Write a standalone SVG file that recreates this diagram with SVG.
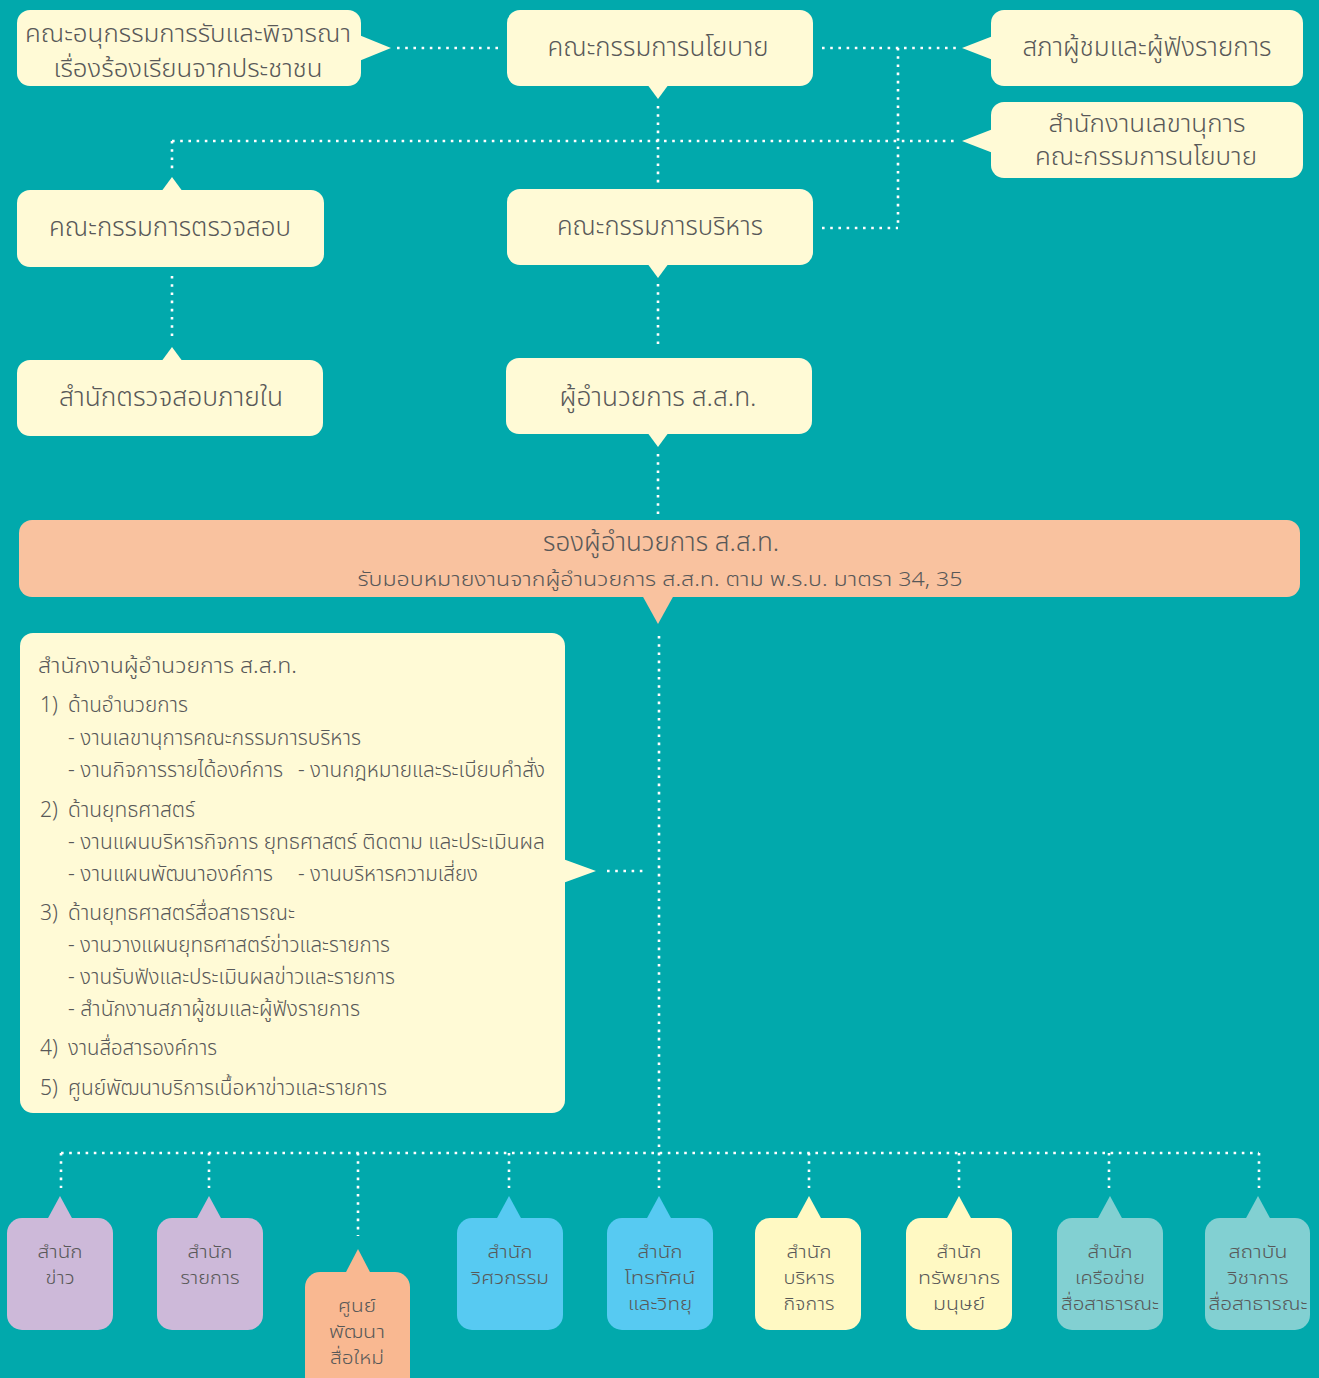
<svg xmlns="http://www.w3.org/2000/svg" width="1319" height="1378" viewBox="0 0 1319 1378">
<style>
.bg{fill:#01A9AC}
.cream{fill:#FFFAD6}
.cream2{fill:#FFF9C3}
.peach{fill:#F9C29F}
.peach2{fill:#F9B891}
.lav{fill:#CDB9D9}
.blue{fill:#57CAF2}
.aqua{fill:#82D0D2}
text{font-family:"Noto Sans Thai","Noto Sans Thai UI","Noto Sans","DejaVu Sans",sans-serif;fill:#585858;font-weight:300}
.t24{font-size:26px}
.t23{font-size:24px}
.t20{font-size:21px}
.t19{font-size:20px}
.t18{font-size:18.5px}
.c{text-anchor:middle}
.dot{fill:none;stroke:#FFFFFF;stroke-width:2.6;stroke-dasharray:2.6 5.6}
</style>
<rect class="bg" x="0" y="0" width="1319" height="1378"/>

<g id="connectors">
<path class="dot" d="M397 48 H500"/>
<path class="dot" d="M658 106 V183"/>
<path class="dot" d="M822 48 H958"/>
<path class="dot" d="M898 48 V228"/>
<path class="dot" d="M822 228 H898"/>
<path class="dot" d="M172 141 H958"/>
<path class="dot" d="M172 141 V172"/>
<path class="dot" d="M658 284 V348"/>
<path class="dot" d="M172 276 V340"/>
<path class="dot" d="M658 454 V514"/>
<path class="dot" d="M659 636 V1153"/>
<path class="dot" d="M607 871 H648"/>
<path class="dot" d="M61 1153 H1259"/>
<path class="dot" d="M61 1153 V1188"/>
<path class="dot" d="M209 1153 V1188"/>
<path class="dot" d="M358 1153 V1236"/>
<path class="dot" d="M509 1153 V1188"/>
<path class="dot" d="M659 1153 V1188"/>
<path class="dot" d="M809 1153 V1188"/>
<path class="dot" d="M959 1153 V1188"/>
<path class="dot" d="M1109 1153 V1188"/>
<path class="dot" d="M1259 1153 V1188"/>
</g>

<g id="n-subcommittee">
<rect class="cream" x="17" y="10" width="344" height="76" rx="13"/>
<polygon class="cream" points="359,35 391,48 359,61"/>
<text class="t23 c" x="188" y="42" textLength="326" lengthAdjust="spacingAndGlyphs">คณะอนุกรรมการรับและพิจารณา</text>
<text class="t23 c" x="188" y="77" textLength="269" lengthAdjust="spacingAndGlyphs">เรื่องร้องเรียนจากประชาชน</text>
</g>

<g id="n-policy">
<rect class="cream" x="507" y="10" width="306" height="76" rx="13"/>
<polygon class="cream" points="647,84 658,99 669,84"/>
<text class="t24 c" x="658" y="56" textLength="221" lengthAdjust="spacingAndGlyphs">คณะกรรมการนโยบาย</text>
</g>

<g id="n-council">
<rect class="cream" x="991" y="10" width="312" height="76" rx="13"/>
<polygon class="cream" points="993,36 962,48 993,60"/>
<text class="t24 c" x="1147" y="56" textLength="249" lengthAdjust="spacingAndGlyphs">สภาผู้ชมและผู้ฟังรายการ</text>
</g>

<g id="n-secretariat">
<rect class="cream" x="991" y="102" width="312" height="76" rx="13"/>
<polygon class="cream" points="993,129 962,141 993,153"/>
<text class="t23 c" x="1147" y="132" textLength="197" lengthAdjust="spacingAndGlyphs">สำนักงานเลขานุการ</text>
<text class="t23 c" x="1146" y="165" textLength="222" lengthAdjust="spacingAndGlyphs">คณะกรรมการนโยบาย</text>
</g>

<g id="n-audit">
<rect class="cream" x="17" y="190" width="307" height="77" rx="13"/>
<polygon class="cream" points="161,192 172,177 183,192"/>
<text class="t24 c" x="170" y="236" textLength="242" lengthAdjust="spacingAndGlyphs">คณะกรรมการตรวจสอบ</text>
</g>

<g id="n-executive">
<rect class="cream" x="507" y="189" width="306" height="76" rx="13"/>
<polygon class="cream" points="647,263 658,278 669,263"/>
<text class="t24 c" x="660" y="235" textLength="206" lengthAdjust="spacingAndGlyphs">คณะกรรมการบริหาร</text>
</g>

<g id="n-internal-audit">
<rect class="cream" x="17" y="360" width="306" height="76" rx="13"/>
<polygon class="cream" points="161,362 172,347 183,362"/>
<text class="t24 c" x="171" y="406" textLength="224" lengthAdjust="spacingAndGlyphs">สำนักตรวจสอบภายใน</text>
</g>

<g id="n-director">
<rect class="cream" x="506" y="358" width="306" height="76" rx="13"/>
<polygon class="cream" points="647,432 658,447 669,432"/>
<text class="t24 c" x="658" y="406" textLength="197" lengthAdjust="spacingAndGlyphs">ผู้อำนวยการ ส.ส.ท.</text>
</g>

<g id="n-deputy">
<rect class="peach" x="19" y="520" width="1281" height="77" rx="13"/>
<polygon class="peach" points="642,595 658,624 674,595"/>
<text class="t24 c" x="661" y="551" textLength="236" lengthAdjust="spacingAndGlyphs">รองผู้อำนวยการ ส.ส.ท.</text>
<text class="t19 c" x="660" y="586" textLength="605" lengthAdjust="spacingAndGlyphs">รับมอบหมายงานจากผู้อำนวยการ ส.ส.ท. ตาม พ.ร.บ. มาตรา 34, 35</text>
</g>

<g id="n-office">
<rect class="cream" x="20" y="633" width="545" height="480" rx="13"/>
<polygon class="cream" points="563,859 596,871 563,883"/>
<text class="t20" x="38" y="673" textLength="259" lengthAdjust="spacingAndGlyphs">สำนักงานผู้อำนวยการ ส.ส.ท.</text>
<text class="t20" x="40" y="712">1)</text>
<text class="t20" x="68" y="712" textLength="120" lengthAdjust="spacingAndGlyphs">ด้านอำนวยการ</text>
<text class="t20" x="68" y="745" textLength="293" lengthAdjust="spacingAndGlyphs">- งานเลขานุการคณะกรรมการบริหาร</text>
<text class="t20" x="68" y="777" textLength="215" lengthAdjust="spacingAndGlyphs">- งานกิจการรายได้องค์การ</text>
<text class="t20" x="298" y="777" textLength="247" lengthAdjust="spacingAndGlyphs">- งานกฎหมายและระเบียบคำสั่ง</text>
<text class="t20" x="40" y="817">2)</text>
<text class="t20" x="68" y="817" textLength="127" lengthAdjust="spacingAndGlyphs">ด้านยุทธศาสตร์</text>
<text class="t20" x="68" y="849" textLength="477" lengthAdjust="spacingAndGlyphs">- งานแผนบริหารกิจการ ยุทธศาสตร์ ติดตาม และประเมินผล</text>
<text class="t20" x="68" y="881" textLength="205" lengthAdjust="spacingAndGlyphs">- งานแผนพัฒนาองค์การ</text>
<text class="t20" x="298" y="881" textLength="180" lengthAdjust="spacingAndGlyphs">- งานบริหารความเสี่ยง</text>
<text class="t20" x="40" y="920">3)</text>
<text class="t20" x="68" y="920" textLength="227" lengthAdjust="spacingAndGlyphs">ด้านยุทธศาสตร์สื่อสาธารณะ</text>
<text class="t20" x="68" y="952" textLength="322" lengthAdjust="spacingAndGlyphs">- งานวางแผนยุทธศาสตร์ข่าวและรายการ</text>
<text class="t20" x="68" y="984" textLength="327" lengthAdjust="spacingAndGlyphs">- งานรับฟังและประเมินผลข่าวและรายการ</text>
<text class="t20" x="68" y="1016" textLength="292" lengthAdjust="spacingAndGlyphs">- สำนักงานสภาผู้ชมและผู้ฟังรายการ</text>
<text class="t20" x="40" y="1055">4)</text>
<text class="t20" x="68" y="1055" textLength="149" lengthAdjust="spacingAndGlyphs">งานสื่อสารองค์การ</text>
<text class="t20" x="40" y="1095">5)</text>
<text class="t20" x="68" y="1095" textLength="319" lengthAdjust="spacingAndGlyphs">ศูนย์พัฒนาบริการเนื้อหาข่าวและรายการ</text>
</g>

<g id="n-news">
<rect class="lav" x="7" y="1218" width="106" height="112" rx="15"/>
<polygon class="lav" points="47,1220 60,1196 73,1220"/>
<text class="t18 c" x="60" y="1258" textLength="45" lengthAdjust="spacingAndGlyphs">สำนัก</text>
<text class="t18 c" x="60" y="1284" textLength="29" lengthAdjust="spacingAndGlyphs">ข่าว</text>
</g>

<g id="n-programs">
<rect class="lav" x="157" y="1218" width="106" height="112" rx="15"/>
<polygon class="lav" points="196,1220 209,1196 222,1220"/>
<text class="t18 c" x="210" y="1258" textLength="45" lengthAdjust="spacingAndGlyphs">สำนัก</text>
<text class="t18 c" x="210" y="1284" textLength="59" lengthAdjust="spacingAndGlyphs">รายการ</text>
</g>

<g id="n-newmedia">
<rect class="peach2" x="305" y="1272" width="105" height="120" rx="15"/>
<polygon class="peach2" points="345,1274 358,1249 371,1274"/>
<text class="t18 c" x="357" y="1312" textLength="38" lengthAdjust="spacingAndGlyphs">ศูนย์</text>
<text class="t18 c" x="357" y="1338" textLength="56" lengthAdjust="spacingAndGlyphs">พัฒนา</text>
<text class="t18 c" x="357" y="1364" textLength="54" lengthAdjust="spacingAndGlyphs">สื่อใหม่</text>
</g>

<g id="n-engineering">
<rect class="blue" x="457" y="1218" width="106" height="112" rx="15"/>
<polygon class="blue" points="496,1220 509,1196 522,1220"/>
<text class="t18 c" x="510" y="1258" textLength="45" lengthAdjust="spacingAndGlyphs">สำนัก</text>
<text class="t18 c" x="510" y="1284" textLength="78" lengthAdjust="spacingAndGlyphs">วิศวกรรม</text>
</g>

<g id="n-tvradio">
<rect class="blue" x="607" y="1218" width="106" height="112" rx="15"/>
<polygon class="blue" points="646,1220 659,1196 672,1220"/>
<text class="t18 c" x="660" y="1258" textLength="45" lengthAdjust="spacingAndGlyphs">สำนัก</text>
<text class="t18 c" x="660" y="1284" textLength="71" lengthAdjust="spacingAndGlyphs">โทรทัศน์</text>
<text class="t18 c" x="660" y="1310" textLength="64" lengthAdjust="spacingAndGlyphs">และวิทยุ</text>
</g>

<g id="n-business">
<rect class="cream2" x="755" y="1218" width="106" height="112" rx="15"/>
<polygon class="cream2" points="796,1220 809,1196 822,1220"/>
<text class="t18 c" x="809" y="1258" textLength="45" lengthAdjust="spacingAndGlyphs">สำนัก</text>
<text class="t18 c" x="809" y="1284" textLength="51" lengthAdjust="spacingAndGlyphs">บริหาร</text>
<text class="t18 c" x="809" y="1310" textLength="51" lengthAdjust="spacingAndGlyphs">กิจการ</text>
</g>

<g id="n-hr">
<rect class="cream2" x="906" y="1218" width="106" height="112" rx="15"/>
<polygon class="cream2" points="946,1220 959,1196 972,1220"/>
<text class="t18 c" x="959" y="1258" textLength="45" lengthAdjust="spacingAndGlyphs">สำนัก</text>
<text class="t18 c" x="959" y="1284" textLength="82" lengthAdjust="spacingAndGlyphs">ทรัพยากร</text>
<text class="t18 c" x="959" y="1310" textLength="52" lengthAdjust="spacingAndGlyphs">มนุษย์</text>
</g>

<g id="n-network">
<rect class="aqua" x="1057" y="1218" width="106" height="112" rx="15"/>
<polygon class="aqua" points="1097,1220 1110,1196 1123,1220"/>
<text class="t18 c" x="1110" y="1258" textLength="45" lengthAdjust="spacingAndGlyphs">สำนัก</text>
<text class="t18 c" x="1110" y="1284" textLength="70" lengthAdjust="spacingAndGlyphs">เครือข่าย</text>
<text class="t18 c" x="1110" y="1310" textLength="98" lengthAdjust="spacingAndGlyphs">สื่อสาธารณะ</text>
</g>

<g id="n-academy">
<rect class="aqua" x="1205" y="1218" width="105" height="112" rx="15"/>
<polygon class="aqua" points="1245,1220 1258,1196 1271,1220"/>
<text class="t18 c" x="1258" y="1258" textLength="59" lengthAdjust="spacingAndGlyphs">สถาบัน</text>
<text class="t18 c" x="1258" y="1284" textLength="61" lengthAdjust="spacingAndGlyphs">วิชาการ</text>
<text class="t18 c" x="1258" y="1310" textLength="99" lengthAdjust="spacingAndGlyphs">สื่อสาธารณะ</text>
</g>
</svg>
